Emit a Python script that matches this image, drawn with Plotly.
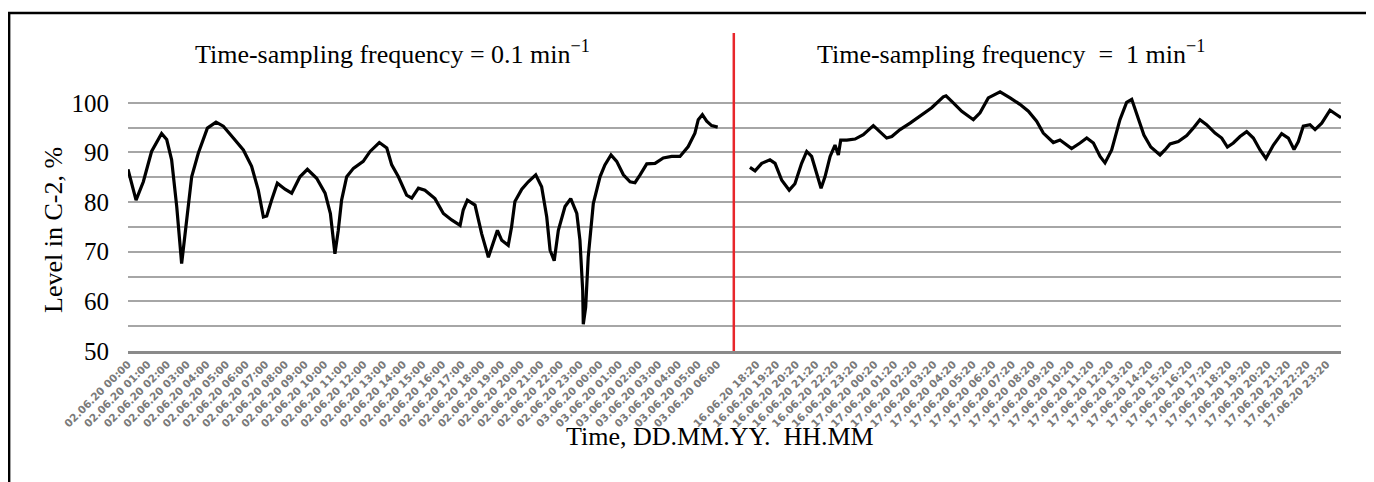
import plotly.graph_objects as go

# ---------------- data (hour index on the shared time axis, level %) ----------------
left_hours = [0, 0.41, 0.78, 1.2, 1.71, 1.97, 2.22, 2.48, 2.73, 2.99, 3.24, 3.58, 4.04, 4.48,
              4.85, 5.36, 5.87, 6.29, 6.63, 6.89, 7.06, 7.31, 7.6, 7.99, 8.33, 8.75, 9.13, 9.6,
              10.03, 10.3, 10.53, 10.7, 10.87, 11.13, 11.47, 11.97, 12.32, 12.79, 13.17, 13.42,
              13.76, 14.18, 14.44, 14.78, 15.11, 15.62, 16.05, 16.47, 16.9, 17.06, 17.27, 17.66,
              18.0, 18.34, 18.59, 18.8, 19.02, 19.35, 19.52, 19.69, 20.04, 20.37, 20.75, 21.05,
              21.31, 21.48, 21.69, 21.9, 22.24, 22.53, 22.84, 23.0, 23.14, 23.17, 23.29, 23.42,
              23.68, 24.02, 24.27, 24.58, 24.87, 25.21, 25.55, 25.8, 26.06, 26.4, 26.82, 27.24,
              27.67, 28.09, 28.51, 28.85, 29.02, 29.23, 29.45, 29.7, 30.01]
left_level = [86.6, 80.4, 84.1, 90.2, 93.8, 92.6, 88.5, 79.1, 67.6, 77.0, 85.1, 89.9, 94.9, 96.1,
              95.3, 92.9, 90.5, 87.2, 82.4, 77.0, 77.2, 80.4, 83.8, 82.6, 81.8, 85.1, 86.6, 84.8,
              81.8, 77.7, 69.6, 74.3, 80.4, 85.1, 86.8, 88.2, 90.2, 92.0, 90.9, 87.5,
              85.1, 81.4, 80.8, 82.8, 82.4, 80.7, 77.7, 76.4, 75.3, 78.4, 80.4, 79.4,
              73.6, 68.9, 71.6, 74.3, 72.3, 71.3, 75.0, 80.1, 82.6, 84.1, 85.5, 83.1,
              77.0, 70.3, 68.2, 74.3, 79.1, 80.7, 77.7, 72.3, 62.2, 55.4, 58.8, 68.9,
              79.7, 85.1, 87.5, 89.5, 88.2, 85.5, 84.1, 83.9, 85.5, 87.7, 87.8, 88.9,
              89.2, 89.2, 91.2, 93.9, 96.6, 97.6, 96.3, 95.4, 95.1]

right_hours = [31.65, 31.91, 32.25, 32.67, 32.93, 33.27, 33.65, 33.94, 34.28, 34.54, 34.79, 35.05,
               35.27, 35.47, 35.73, 35.98, 36.15, 36.27, 36.58, 37.0, 37.42, 37.93, 38.27, 38.61,
               38.87, 39.29, 39.8, 40.39, 40.9, 41.49, 41.63, 42.0, 42.43, 43.02, 43.36, 43.78,
               44.38, 44.89, 45.39, 45.82, 46.24, 46.58, 47.09, 47.43, 48.02, 48.45, 48.79, 49.13,
               49.47, 49.72, 50.06, 50.48, 50.82, 51.08, 51.42, 51.7, 52.05, 52.52, 52.77, 53.03,
               53.45, 53.88, 54.21, 54.55, 54.89, 55.32, 55.66, 55.95, 56.25, 56.59, 56.93, 57.27,
               57.61, 57.91, 58.29, 58.71, 59.05, 59.34, 59.56, 59.81, 60.15, 60.41, 60.75, 61.17,
               61.51, 61.73]
right_level = [87.0, 86.3, 87.8, 88.5, 87.8, 84.4, 82.4, 83.7, 87.8, 90.2, 89.2, 85.8,
               82.8, 85.1, 89.2, 91.5, 89.5, 92.5, 92.5, 92.7, 93.6, 95.4, 94.2, 92.9,
               93.2, 94.6, 95.9, 97.6, 99.0, 101.2, 101.4, 100.0, 98.3, 96.6, 98.0, 101.0,
               102.2, 101.0, 99.7, 98.3, 96.3, 93.9, 92.0, 92.5, 90.8, 91.9, 92.9, 91.9,
               89.2, 87.9, 90.5, 96.6, 100.1, 100.7, 97.0, 93.5, 91.1, 89.5, 90.5, 91.7,
               92.2, 93.4, 94.9, 96.6, 95.6, 93.9, 92.9, 91.1, 91.9, 93.2, 94.2, 92.9,
               90.5, 88.8, 91.5, 93.8, 92.9, 90.6, 92.2, 95.3, 95.6, 94.6, 95.9, 98.5,
               97.6, 97.0]

left_tick_labels = [
    "02.06.20 00:00", "02.06.20 01:00", "02.06.20 02:00", "02.06.20 03:00", "02.06.20 04:00",
    "02.06.20 05:00", "02.06.20 06:00", "02.06.20 07:00", "02.06.20 08:00", "02.06.20 09:00",
    "02.06.20 10:00", "02.06.20 11:00", "02.06.20 12:00", "02.06.20 13:00", "02.06.20 14:00",
    "02.06.20 15:00", "02.06.20 16:00", "02.06.20 17:00", "02.06.20 18:00", "02.06.20 19:00",
    "02.06.20 20:00", "02.06.20 21:00", "02.06.20 22:00", "02.06.20 23:00", "03.06.20 00:00",
    "03.06.20 01:00", "03.06.20 02:00", "03.06.20 03:00", "03.06.20 04:00", "03.06.20 05:00",
    "03.06.20 06:00"]
right_tick_labels = [
    "16.06.20 18:20", "16.06.20 19:20", "16.06.20 20:20", "16.06.20 21:20", "16.06.20 22:20",
    "16.06.20 23:20", "17.06.20 00:20", "17.06.20 01:20", "17.06.20 02:20", "17.06.20 03:20",
    "17.06.20 04:20", "17.06.20 05:20", "17.06.20 06:20", "17.06.20 07:20", "17.06.20 08:20",
    "17.06.20 09:20", "17.06.20 10:20", "17.06.20 11:20", "17.06.20 12:20", "17.06.20 13:20",
    "17.06.20 14:20", "17.06.20 15:20", "17.06.20 16:20", "17.06.20 17:20", "17.06.20 18:20",
    "17.06.20 19:20", "17.06.20 20:20", "17.06.20 21:20", "17.06.20 22:20", "17.06.20 23:20"]
right_first_tick = 32

left_title = "Time-sampling frequency = 0.1 min<sup>\u22121</sup>"
right_title = "Time-sampling frequency \u00a0=\u00a0 1 min<sup>\u22121</sup>"
x_title = "Time, DD.MM.YY.\u00a0 HH.MM"
y_title = "Level in C-2, %"

# ---------------- figure ----------------
tickvals = list(range(len(left_tick_labels))) + \
    [right_first_tick + i for i in range(len(right_tick_labels))]
ticktext = left_tick_labels + right_tick_labels

serif = "Liberation Serif, Times New Roman, serif"

fig = go.Figure()
line_style = dict(color="black", width=3.2)
fig.add_trace(go.Scatter(x=left_hours, y=left_level, mode="lines", line=line_style,
                         showlegend=False, hoverinfo="skip"))
fig.add_trace(go.Scatter(x=right_hours, y=right_level, mode="lines", line=line_style,
                         showlegend=False, hoverinfo="skip"))

divider_x = (left_hours[-1] + right_hours[0]) / 2

fig.update_layout(
    width=1366, height=474,
    margin=dict(l=120, r=33, t=70, b=131),
    paper_bgcolor="white", plot_bgcolor="white",
    xaxis=dict(
        range=[0, right_hours[-1]],
        tickmode="array", tickvals=tickvals, ticktext=ticktext,
        tickangle=-45,
        tickfont=dict(family="DejaVu Sans", size=10.5, color="#7a7a7a", weight="bold"),
        showgrid=False, zeroline=False,
        showline=True, linecolor="#8a8a8a", linewidth=3,
        ticks="",
    ),
    yaxis=dict(
        range=[50, 105],
        tickmode="linear", tick0=50, dtick=10,
        tickfont=dict(family=serif, size=25, color="black"),
        ticklabelstandoff=18,
        showgrid=True, gridcolor="#a6a6a6", gridwidth=1.5,
        minor=dict(dtick=5, tick0=50, showgrid=True, gridcolor="#a6a6a6", gridwidth=1.5),
        zeroline=False, showline=False, ticks="",
    ),
    annotations=[
        dict(text=left_title, xref="paper", yref="paper", x=0.218, y=1.095,
             xanchor="center", yanchor="middle", showarrow=False,
             font=dict(family=serif, size=26, color="black")),
        dict(text=right_title, xref="paper", yref="paper", x=0.728, y=1.095,
             xanchor="center", yanchor="middle", showarrow=False,
             font=dict(family=serif, size=26, color="black")),
        dict(text=x_title, xref="paper", yref="paper", x=0.488, y=-0.315,
             xanchor="center", yanchor="middle", showarrow=False,
             font=dict(family=serif, size=26, color="black")),
        dict(text=y_title, xref="paper", yref="paper", x=-0.0615, y=0.445,
             xanchor="center", yanchor="middle", showarrow=False, textangle=-90,
             font=dict(family=serif, size=26, color="black")),
    ],
    shapes=[
        dict(type="line", xref="x", yref="paper", x0=divider_x, x1=divider_x,
             y0=0, y1=1.165, line=dict(color="#e8262b", width=2.5)),
        dict(type="rect", xref="paper", yref="paper",
             x0=-0.098, x1=1.0235, y0=-0.49, y1=1.238,
             line=dict(color="black", width=2.5), fillcolor="rgba(0,0,0,0)", layer="above"),
    ],
)

fig.write_html("out.html")
